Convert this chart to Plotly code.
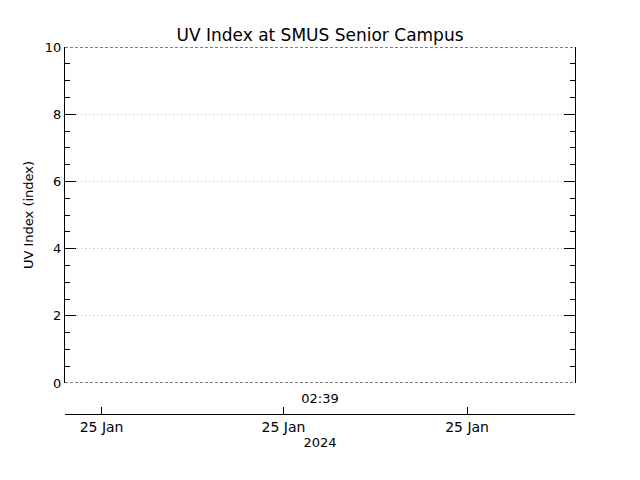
import plotly.graph_objects as go

# time window of the plot (no UV readings in it)
time_start = "2024-01-25 02:38:00"
time_end = "2024-01-25 02:40:00"
uv_times = []
uv_values = []

# upper time axis
time_ticks = ["2024-01-25 02:39:00"]
time_labels = ["02:39"]

# lower date axis
date_ticks = ["2024-01-25 02:38:08.6", "2024-01-25 02:38:51.4", "2024-01-25 02:39:34.6"]
date_labels = ["25 Jan", "25 Jan", "25 Jan"]
year_label = "2024"

y_min, y_max = 0, 10

font = "DejaVu Sans"

fig = go.Figure()
fig.add_trace(go.Scatter(x=uv_times, y=uv_values, mode="lines",
                         line=dict(color="black", width=1), showlegend=False))
fig.add_trace(go.Scatter(x=uv_times, y=uv_values, xaxis="x2", mode="lines",
                         showlegend=False, hoverinfo="skip"))

# dashed top / bottom frame
for yv in [y_min, y_max]:
    fig.add_shape(type="line", xref="x domain", yref="y", x0=0, x1=1, y0=yv, y1=yv,
                  line=dict(color="black", width=1, dash="3px,2px"))

# page body adds an 8px offset, margins compensate for it
fig.update_layout(
    width=640, height=480,
    margin=dict(l=57, r=73, t=39, b=74),
    paper_bgcolor="white", plot_bgcolor="white",
    font=dict(family=font, size=13, color="black"),
    title=dict(text="UV Index at SMUS Senior Campus", x=57 / 640 + 0.5 * 510 / 640,
               xanchor="center", y=1 - 27 / 480, yanchor="middle", yref="container",
               font=dict(family=font, size=17, color="black")),
    xaxis=dict(type="date", range=[time_start, time_end], anchor="y",
               tickvals=time_ticks, ticktext=time_labels, ticks="",
               showgrid=False, showline=False, zeroline=False,
               ticklabelstandoff=6, tickfont=dict(size=13)),
    xaxis2=dict(type="date", range=[time_start, time_end], overlaying="x",
                anchor="free", position=0, side="bottom",
                tickvals=date_ticks, ticktext=date_labels,
                ticks="inside", ticklen=7, tickcolor="black", tickwidth=1,
                showline=True, linecolor="black", linewidth=1,
                showgrid=False, zeroline=False, tickfont=dict(size=14),
                title=dict(text=year_label, standoff=0, font=dict(size=13))),
    yaxis=dict(domain=[31 / 367, 1], range=[y_min, y_max], dtick=2,
               ticks="inside", ticklen=11, tickcolor="black", tickwidth=1,
               minor=dict(dtick=0.5, ticks="inside", ticklen=5, tickcolor="black",
                          showgrid=False),
               showline=True, linecolor="black", linewidth=1, mirror="ticks",
               showgrid=True, griddash="1px,3px", gridcolor="#b4b4b4", gridwidth=1,
               zeroline=False, tickfont=dict(size=13),
               title=dict(text="UV Index (index)", standoff=8, font=dict(size=13))),
)

fig.write_html("out.html")
